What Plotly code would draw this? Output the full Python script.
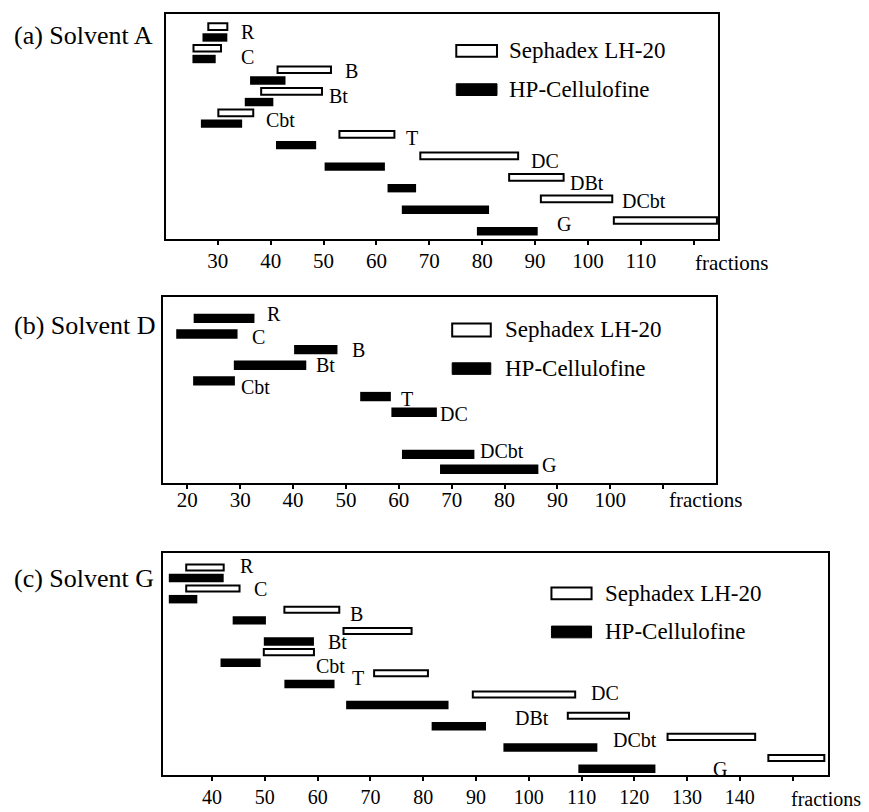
import plotly.graph_objects as go

# ---------------- data (fraction numbers) ----------------
compounds = ["R", "C", "B", "Bt", "Cbt", "T", "DC", "DBt", "DCbt", "G"]

# (a) Solvent A
seph_a_start = [28.2, 25.4, 41.3, 38.2, 30.1, 53.0, 68.3, 85.1, 91.1, 104.9]
seph_a_end   = [31.8, 30.6, 51.4, 49.7, 36.7, 63.4, 86.8, 95.4, 104.6, 124.4]
hp_a_start   = [27.1, 25.2, 36.1, 35.1, 26.8, 41.0, 50.2, 62.1, 64.8, 79.0]
hp_a_end     = [31.8, 29.6, 42.8, 40.5, 34.6, 48.6, 61.6, 67.5, 81.3, 90.5]

# (b) Solvent D (HP-Cellulofine only)
compounds_b = ["R", "C", "B", "Bt", "Cbt", "T", "DC", "DCbt", "G"]
rows_b      = [0, 1, 2, 3, 4, 5, 6, 8.7, 9.65]
hp_b_start  = [21.2, 17.9, 40.2, 28.8, 21.1, 52.7, 58.6, 60.6, 67.8]
hp_b_end    = [32.7, 29.5, 48.4, 42.5, 29.0, 58.5, 67.2, 74.3, 86.4]

# (c) Solvent G
seph_c_start = [35.1, 35.1, 53.7, 64.9, 49.8, 70.7, 89.4, 107.4, 126.3, 145.4]
seph_c_end   = [42.2, 45.2, 64.1, 77.8, 59.3, 80.9, 108.8, 119.0, 142.9, 156.0]
hp_c_start   = [31.8, 31.8, 43.9, 49.8, 41.6, 53.7, 65.4, 81.6, 95.2, 109.4]
hp_c_end     = [42.2, 37.2, 50.2, 59.3, 49.2, 63.2, 84.8, 91.9, 113.0, 124.0]

ticks_a = list(range(30, 121, 10))
ticks_b = list(range(20, 111, 10))
ticks_c = list(range(40, 151, 10))

panel_titles = ["(a) Solvent A", "(b) Solvent D", "(c) Solvent G"]
legend_names = ["Sephadex LH-20", "HP-Cellulofine"]

# ---------------- styling ----------------
FONT = "Liberation Serif"
OFF = 8                      # page body margin (figure is drawn from (8, 8))
W, H = 869, 812


def px(x):
    return (x - OFF) / W


def py(y):
    return 1 - (y - OFF) / H


fig = go.Figure()


def add_bars(starts, ends, rows, xa, ya, filled, width):
    fig.add_trace(go.Bar(
        orientation="h",
        y=rows,
        x=[e - s for s, e in zip(starts, ends)],
        base=starts,
        width=width,
        marker=dict(color="black" if filled else "white",
                    line=dict(color="black", width=0 if filled else 2)),
        xaxis=xa, yaxis=ya, showlegend=False, hoverinfo="skip",
    ))


rows_open = [2 * i for i in range(len(compounds))]
rows_fill = [2 * i + 1 for i in range(len(compounds))]

# panel a
add_bars(seph_a_start, seph_a_end, rows_open, "x", "y", False, 0.62)
add_bars(hp_a_start, hp_a_end, rows_fill, "x", "y", True, 0.78)
# panel b
add_bars(hp_b_start, hp_b_end, rows_b, "x2", "y2", True, 0.6)
# panel c
add_bars(seph_c_start, seph_c_end, rows_open, "x3", "y3", False, 0.57)
add_bars(hp_c_start, hp_c_end, rows_fill, "x3", "y3", True, 0.8)

panels = [
    dict(xd=(166, 718), yd=(14, 239), xr=[20.2, 124.6], yr=[19.72, -1.18],
         ticks=ticks_a, standoff=-2, tsize=21),
    dict(xd=(163, 716), yd=(297, 483), xr=[15.4, 120.0], yr=[10.53, -1.37],
         ticks=ticks_b, standoff=-7, tsize=21),
    dict(xd=(163, 828), yd=(553, 775), xr=[30.7, 156.7], yr=[19.6, -1.36],
         ticks=ticks_c, standoff=-1, tsize=20),
]

layout = dict(
    width=W, height=H, margin=dict(l=0, r=0, t=0, b=0),
    paper_bgcolor="white", plot_bgcolor="white",
    barmode="overlay", font=dict(family=FONT, color="black"),
)

for i, p in enumerate(panels):
    k = "" if i == 0 else str(i + 1)
    ko = str(i + 4)
    xdom = [px(p["xd"][0]), px(p["xd"][1])]
    ydom = [py(p["yd"][1]), py(p["yd"][0])]
    ticktext = [str(t) for t in p["ticks"][:-1]] + [""]
    layout["xaxis" + k] = dict(
        domain=xdom, range=p["xr"], anchor="y" + k,
        showline=True, linecolor="black", linewidth=2, mirror=True,
        showgrid=False, zeroline=False,
        ticks="outside", ticklen=4, tickwidth=2, tickcolor="black",
        tickvals=p["ticks"], ticktext=ticktext,
        tickfont=dict(family=FONT, size=p["tsize"], color="black"),
        ticklabelstandoff=p["standoff"],
    )
    layout["xaxis" + ko] = dict(
        domain=xdom, range=p["xr"], anchor="y" + k, overlaying="x" + k,
        showline=False, showgrid=False, zeroline=False,
        ticks="inside", ticklen=5, tickwidth=2, tickcolor="black",
        tickvals=p["ticks"], showticklabels=False,
    )
    layout["yaxis" + k] = dict(
        domain=ydom, range=p["yr"], anchor="x" + k,
        showline=True, linecolor="black", linewidth=2, mirror=True,
        showgrid=False, zeroline=False, showticklabels=False, ticks="",
    )

fig.update_layout(**layout)

annotations = []
shapes = []

# panel titles
title_y = [35, 325, 578]
for t, y in zip(panel_titles, title_y):
    annotations.append(dict(text=t, x=px(12), y=py(y), xref="paper", yref="paper",
                            xanchor="left", yanchor="middle", showarrow=False,
                            font=dict(family=FONT, size=26, color="black")))

# "fractions" labels
for (xc, yc, fs) in [(731, 263, 21), (705, 500, 21), (826, 799, 20)]:
    annotations.append(dict(text="fractions", x=px(xc), y=py(yc), xref="paper", yref="paper",
                            xanchor="center", yanchor="middle", showarrow=False,
                            font=dict(family=FONT, size=fs, color="black")))

# compound labels (left x in fractions, row)
lab_a = [(34.0, 0.47), (34.0, 2.8), (53.6, 4.1), (50.7, 6.4), (38.8, 8.7),
         (65.3, 10.3), (88.9, 12.5), (96.2, 14.5), (106.1, 16.2), (93.8, 18.3)]
lab_b = [(34.7, -0.3), (31.8, 1.16), (50.7, 2.0), (44.0, 2.95), (29.8, 4.4),
         (60.1, 5.16), (67.5, 6.1), (74.9, 8.5), (86.8, 9.4)]
lab_c = [(44.9, -0.16), (47.5, 2.05), (65.7, 4.4), (61.6, 7.0), (59.3, 9.3),
         (66.1, 10.4), (111.4, 11.9), (97.1, 14.2), (115.6, 16.3), (134.6, 19.0)]

for names, labs, k in [(compounds, lab_a, ""), (compounds_b, lab_b, "2"), (compounds, lab_c, "3")]:
    for n, (x, y) in zip(names, labs):
        annotations.append(dict(text=n, x=x, y=y, xref="x" + k, yref="y" + k,
                                xanchor="left", yanchor="middle", showarrow=False,
                                font=dict(family=FONT, size=20, color="black")))

# legends (box x0,x1 in fractions; rows of open & filled boxes; text x)
legends = [
    ("", 75.1, 82.8, (1.71, 2.8), (5.3, 6.39), 84.6),
    ("2", 70.1, 77.4, (0.32, 1.16), (2.84, 3.58), 79.7),
    ("3", 104.3, 111.9, (1.9, 3.0), (5.54, 6.65), 114.0),
]
for k, x0, x1, ro, rf, xt in legends:
    shapes.append(dict(type="rect", xref="x" + k, yref="y" + k, x0=x0, x1=x1,
                       y0=ro[0], y1=ro[1], fillcolor="white",
                       line=dict(color="black", width=2)))
    shapes.append(dict(type="rect", xref="x" + k, yref="y" + k, x0=x0, x1=x1,
                       y0=rf[0], y1=rf[1], fillcolor="black",
                       line=dict(color="black", width=1)))
    for name, rr in zip(legend_names, [ro, rf]):
        annotations.append(dict(text=name, x=xt, y=(rr[0] + rr[1]) / 2,
                                xref="x" + k, yref="y" + k,
                                xanchor="left", yanchor="middle", showarrow=False,
                                font=dict(family=FONT, size=23, color="black")))

fig.update_layout(annotations=annotations, shapes=shapes)

fig.write_html("out.html")
